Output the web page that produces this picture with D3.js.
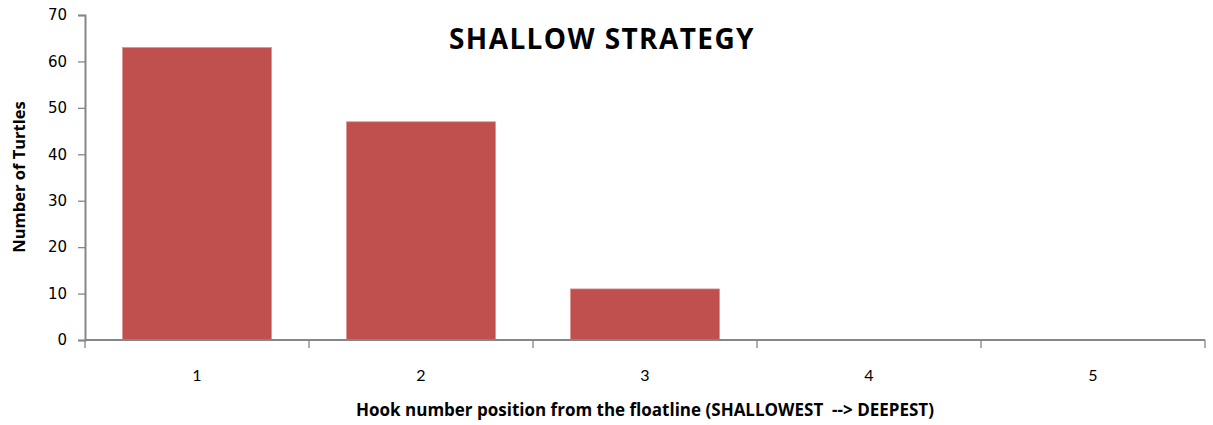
<!DOCTYPE html>
<html>
<head>
<meta charset="utf-8">
<script src="https://cdn.jsdelivr.net/npm/d3@7"></script>
<style>
  body { margin: 0; background: #fff; }
  svg text { fill: #000; }
</style>
</head>
<body>
<svg id="chart" width="1213" height="425"></svg>
<script>
'use strict';

const hooks = ['1', '2', '3', '4', '5'];
const turtles = [63, 47, 11, 0, 0];
const yTicks = [0, 10, 20, 30, 40, 50, 60, 70];

const title = 'SHALLOW STRATEGY';
const xTitle = 'Hook number position from the floatline (SHALLOWEST  --> DEEPEST)';
const yTitle = 'Number of Turtles';

function main() {
  const svg = d3.select('#chart');
  const margin = { top: 15, right: 8, bottom: 85, left: 85 };
  const width = Number(svg.attr('width'));
  const height = Number(svg.attr('height'));

  const x = d3.scaleBand()
    .domain(hooks)
    .range([margin.left, width - margin.right])
    .paddingInner(0.335)
    .paddingOuter(0.1675);

  const y = d3.scaleLinear()
    .domain([0, 70])
    .range([height - margin.bottom, margin.top]);

  const data = hooks.map((h, i) => ({ hook: h, value: turtles[i] }));

  // bars
  svg.append('g')
    .selectAll('rect')
    .data(data.filter(d => d.value > 0))
    .enter().append('rect')
    .attr('x', d => x(d.hook))
    .attr('y', d => y(d.value))
    .attr('width', x.bandwidth())
    .attr('height', d => y(0) - y(d.value))
    .attr('fill', '#c0504d')
    .attr('stroke', '#d88f8d')
    .attr('stroke-width', 0.7);

  // y axis
  const yAxis = svg.append('g')
    .attr('transform', `translate(${margin.left},0)`)
    .call(d3.axisLeft(y).tickValues(yTicks).tickSize(7).tickPadding(11));

  // x axis, ticks at band boundaries
  const bounds = hooks.map(h => x(h) - x.step() * x.paddingInner() / 2);
  bounds.push(width - margin.right);
  const xAxis = svg.append('g')
    .attr('transform', `translate(0,${y(0)})`);
  xAxis.append('line')
    .attr('x1', margin.left).attr('x2', width - margin.right)
    .attr('stroke', '#868686').attr('stroke-width', 2);
  xAxis.selectAll('.tk')
    .data(bounds)
    .enter().append('line')
    .attr('class', 'tk')
    .attr('x1', d => d).attr('x2', d => d)
    .attr('y1', 0).attr('y2', 8)
    .attr('stroke', '#868686').attr('stroke-width', 1.3);
  xAxis.selectAll('.lb')
    .data(hooks)
    .enter().append('text')
    .attr('class', 'lb')
    .attr('x', d => x(d) + x.bandwidth() / 2)
    .attr('y', 41)
    .attr('text-anchor', 'middle')
    .style('font-family', 'Lato, "Open Sans", sans-serif')
    .style('font-size', '16px')
    .text(d => d);

  yAxis.select('.domain').attr('stroke', '#868686').attr('stroke-width', 2);
  yAxis.selectAll('.tick line').attr('stroke', '#868686').attr('stroke-width', 1.3);
  yAxis.selectAll('.tick text')
    .style('font-family', '"DejaVu Sans", sans-serif')
    .style('font-size', '15px');

  // titles
  svg.append('text')
    .attr('x', 602)
    .attr('y', 49)
    .attr('text-anchor', 'middle')
    .style('font-family', '"Open Sans", sans-serif')
    .style('font-weight', 'bold')
    .style('font-size', '28px')
    .style('letter-spacing', '1.4px')
    .text(title);

  svg.append('text')
    .attr('x', 645)
    .attr('y', 416)
    .attr('text-anchor', 'middle')
    .style('white-space', 'pre')
    .style('font-family', '"Open Sans", sans-serif')
    .style('font-weight', 'bold')
    .style('font-size', '17px')
    .text(xTitle);

  svg.append('text')
    .attr('transform', 'translate(25,177) rotate(-90)')
    .attr('text-anchor', 'middle')
    .style('font-family', '"Open Sans", sans-serif')
    .style('font-weight', 'bold')
    .style('font-size', '16.5px')
    .text(yTitle);
}

if (document.readyState !== 'loading')
  main();
else
  document.addEventListener('DOMContentLoaded', main);
</script>
</body>
</html>
